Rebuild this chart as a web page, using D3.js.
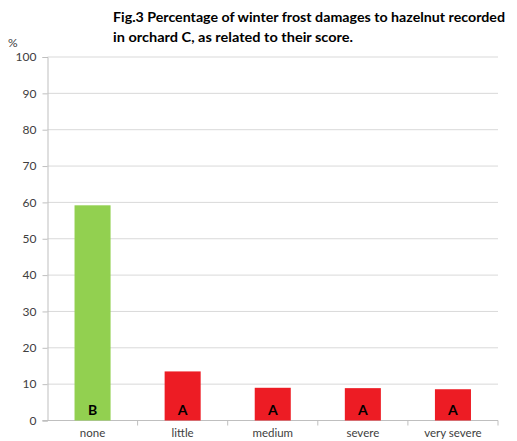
<!DOCTYPE html>
<html>
<head>
<meta charset="utf-8">
<script src="https://cdn.jsdelivr.net/npm/d3@7"></script>
<style>
  body { margin: 0; background: #fff; overflow: hidden; }
  text { font-family: Lato, "Open Sans", sans-serif; }
</style>
</head>
<body>
<svg id="chart"></svg>
<script>
const width = 517, height = 441;

// data
const categories = ["none", "little", "medium", "severe", "very severe"];
const values = [59.2, 13.5, 9.0, 8.9, 8.6];
const letters = ["B", "A", "A", "A", "A"];
const barColors = ["#92D050", "#ED1C24", "#ED1C24", "#ED1C24", "#ED1C24"];
const yTicks = [0, 10, 20, 30, 40, 50, 60, 70, 80, 90, 100];

const svg = d3.select("#chart").attr("width", width).attr("height", height);

// plot area
const plotLeft = 47.5, plotRight = 498, plotTop = 57, plotBottom = 420.5;

const x = d3.scaleBand().domain(categories).range([plotLeft, plotRight]).paddingInner(0.6).paddingOuter(0.3);
const y = d3.scaleLinear().domain([0, 100]).range([plotBottom, plotTop]);

// gridlines
svg.append("g")
  .selectAll("line")
  .data(yTicks.filter(d => d > 0))
  .join("line")
  .attr("x1", plotLeft).attr("x2", plotRight)
  .attr("y1", d => y(d)).attr("y2", d => y(d))
  .attr("stroke", "#d9d9d9").attr("stroke-width", 1);

// y axis
const yAxis = svg.append("g")
  .attr("transform", `translate(${plotLeft},0)`)
  .call(d3.axisLeft(y).tickValues(yTicks).tickSize(5).tickPadding(6));
yAxis.select(".domain").attr("stroke", "#bfbfbf");
yAxis.selectAll(".tick line").attr("stroke", "#bfbfbf");
yAxis.selectAll(".tick text").attr("fill", "#404040").style("font-size", "12px");

// x axis
const step = (plotRight - plotLeft) / categories.length;
const xAxis = svg.append("g")
  .attr("transform", `translate(0,${plotBottom})`);
xAxis.append("line")
  .attr("x1", plotLeft - 5).attr("x2", plotRight)
  .attr("stroke", "#bfbfbf");
xAxis.selectAll("line.tk")
  .data(d3.range(1, categories.length + 1))
  .join("line")
  .attr("class", "tk")
  .attr("x1", i => plotLeft + i * step).attr("x2", i => plotLeft + i * step)
  .attr("y1", 0).attr("y2", 5)
  .attr("stroke", "#bfbfbf");
xAxis.selectAll("text")
  .data(categories)
  .join("text")
  .attr("x", d => x(d) + x.bandwidth() / 2)
  .attr("y", 16)
  .attr("text-anchor", "middle")
  .attr("fill", "#404040")
  .style("font-size", "11.5px")
  .text(d => d);

// bars
svg.append("g")
  .selectAll("rect")
  .data(categories)
  .join("rect")
  .attr("x", d => x(d))
  .attr("width", x.bandwidth())
  .attr("y", (d, i) => y(values[i]))
  .attr("height", (d, i) => y(0) - y(values[i]))
  .attr("fill", (d, i) => barColors[i]);

// letters
svg.append("g")
  .selectAll("text")
  .data(categories)
  .join("text")
  .attr("x", d => x(d) + x.bandwidth() / 2)
  .attr("y", plotBottom - 6)
  .attr("text-anchor", "middle")
  .style("font-size", "14px")
  .style("font-weight", "bold")
  .attr("fill", "#000")
  .text((d, i) => letters[i]);

// title
const title = svg.append("text")
  .style("font-size", "14px")
  .style("font-weight", "bold")
  .attr("fill", "#000");
title.append("tspan").attr("x", 113).attr("y", 22)
  .attr("textLength", 392).attr("lengthAdjust", "spacingAndGlyphs")
  .text("Fig.3 Percentage of winter frost damages to hazelnut recorded");
title.append("tspan").attr("x", 113).attr("y", 42)
  .attr("textLength", 240).attr("lengthAdjust", "spacingAndGlyphs")
  .text("in orchard C, as related to their score.");

// unit label
svg.append("text")
  .attr("x", 8).attr("y", 47)
  .style("font-size", "12px")
  .attr("fill", "#404040")
  .text("%");
</script>
</body>
</html>
